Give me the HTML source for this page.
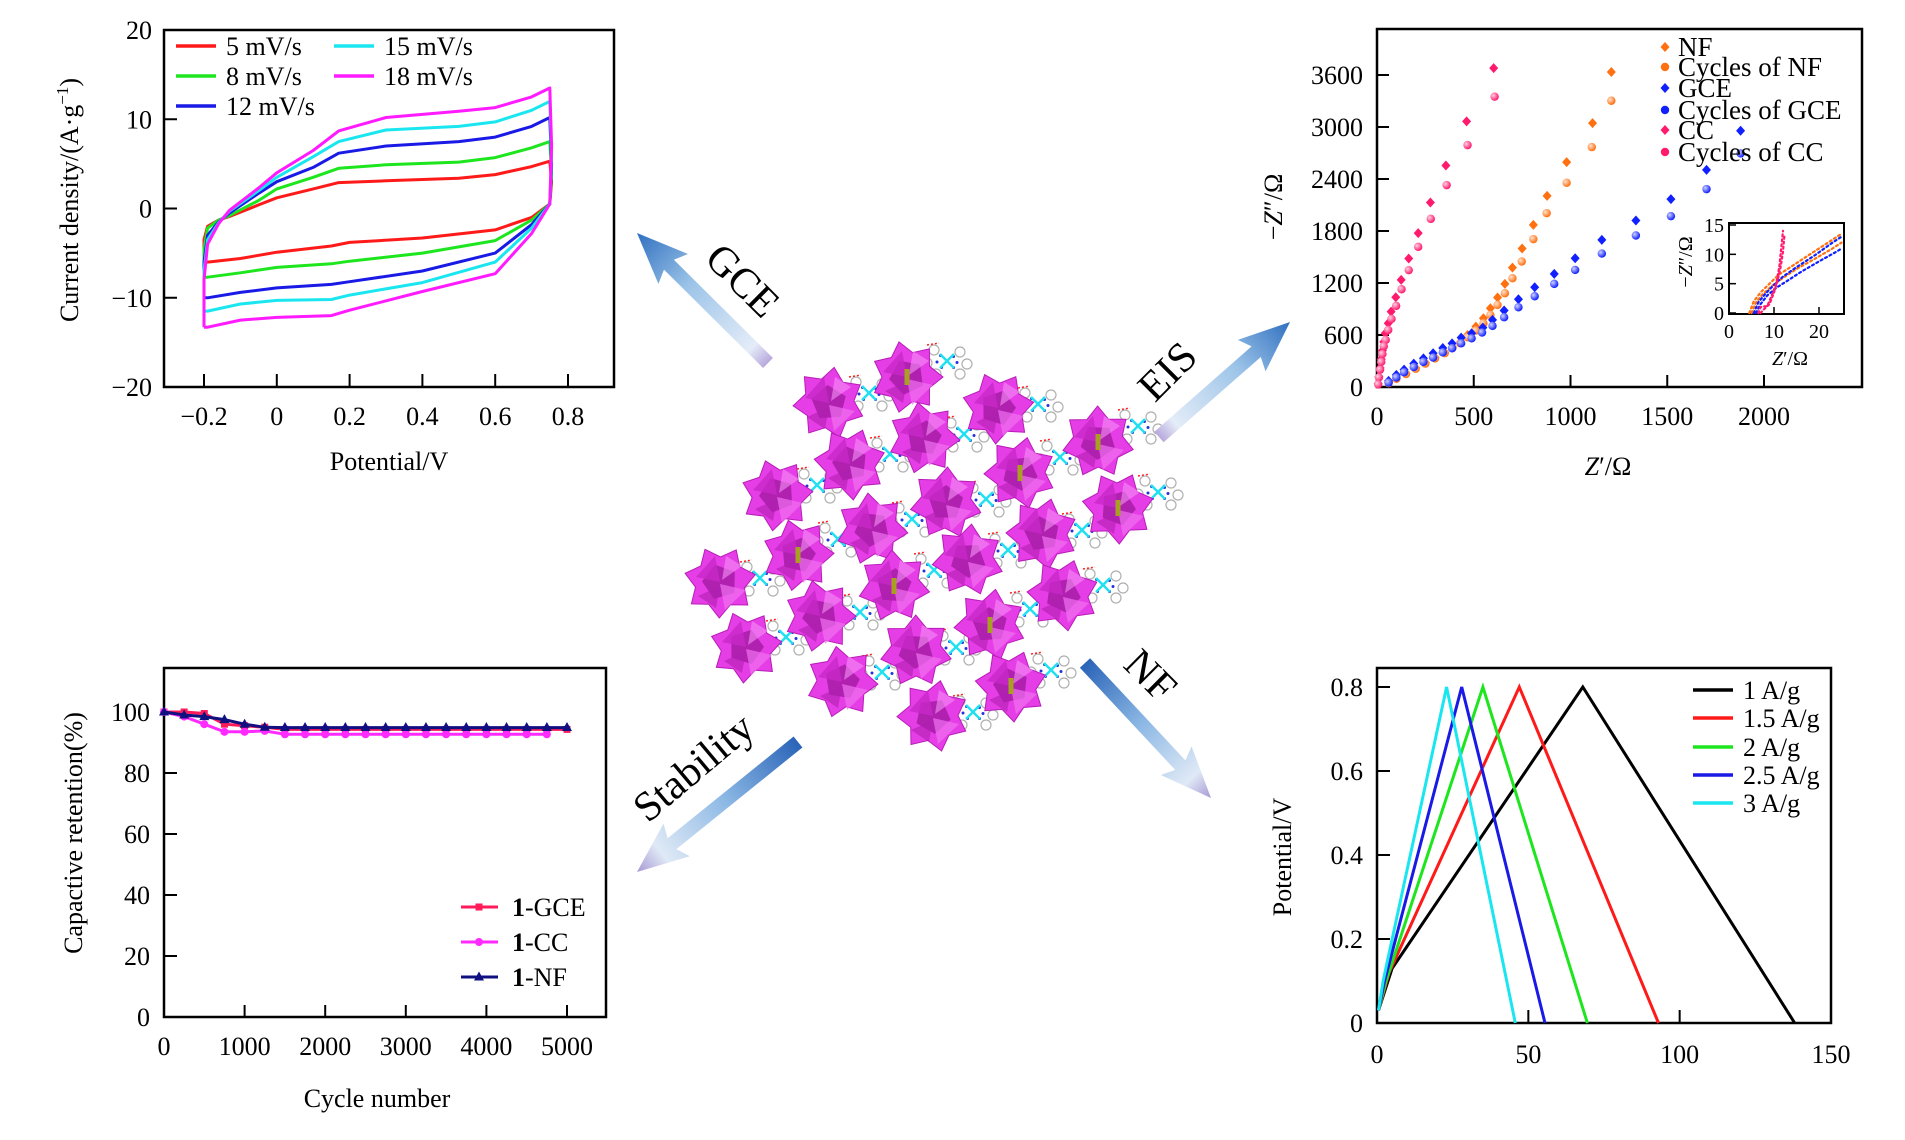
<!DOCTYPE html>
<html><head><meta charset="utf-8">
<style>
html,body{margin:0;padding:0;background:#fff;}
svg{display:block;font-family:"Liberation Serif",serif;}
</style></head>
<body>
<svg id="fig" width="1905" height="1140" viewBox="0 0 1905 1140" xmlns="http://www.w3.org/2000/svg">
<defs>
<radialGradient id="ballg" cx="35%" cy="35%" r="65%"><stop offset="0" stop-color="#fff" stop-opacity="0.8"/><stop offset="1" stop-color="#fff" stop-opacity="0"/></radialGradient>
</defs>
</svg>
<script>
// ---------- CV data ----------
const cvLabels=['5 mV/s','8 mV/s','12 mV/s','15 mV/s','18 mV/s'];
const cvColors=['#ff1a1a','#1ee61e','#1a1ae6','#1ae6f0','#ff1aff'];
const cvPotUp=[-0.2,-0.2,-0.19,-0.16,-0.13,-0.05,0,0.1,0.17,0.3,0.5,0.6,0.7,0.75];
const cvPotDown=[0.755,0.75,0.7,0.6,0.4,0.2,0.15,0,-0.1,-0.19,-0.2];
const cvUp5=[-6.0,-3.5,-2.0,-1.3,-0.9,0.4,1.2,2.2,2.9,3.1,3.4,3.8,4.7,5.3];
const cvDown5=[3.0,0.5,-1.0,-2.4,-3.3,-3.8,-4.2,-4.9,-5.6,-6.0,-6.0];
const cvUp8=[-7.7,-4.5,-2.2,-1.3,-0.8,0.9,2.2,3.5,4.5,4.9,5.2,5.7,6.8,7.5];
const cvDown8=[4.0,0.5,-1.3,-3.6,-5.0,-5.9,-6.2,-6.6,-7.2,-7.7,-7.7];
const cvUp12=[-10.0,-6,-3,-1.5,-0.5,1.7,3.0,4.6,6.2,7.0,7.5,8.0,9.2,10.2];
const cvDown12=[5,0.5,-1.8,-5.0,-7.0,-8.2,-8.5,-8.9,-9.4,-10.0,-10.0];
const cvUp15=[-11.5,-7,-3.5,-1.6,-0.3,2.0,3.5,5.8,7.5,8.8,9.2,9.7,11.0,12.0];
const cvDown15=[6,0.5,-2.2,-6.0,-8.3,-9.7,-10.2,-10.3,-10.7,-11.5,-11.5];
const cvUp18=[-13.3,-8,-4,-1.7,-0.2,2.3,4.0,6.5,8.7,10.2,10.9,11.3,12.5,13.5];
const cvDown18=[7,0.5,-2.8,-7.3,-9.3,-11.4,-12.0,-12.2,-12.5,-13.3,-13.3];
const cvXTicks=[-0.2,0,0.2,0.4,0.6,0.8];
const cvXTickLabels=['\u22120.2','0','0.2','0.4','0.6','0.8'];
const cvYTicks=[20,10,0,-10,-20];
const cvYTickLabels=['20','10','0','\u221210','\u221220'];

// ---------- EIS data ----------
const eisLabels=['NF','Cycles of NF','GCE','Cycles of GCE','CC','Cycles of CC'];
const eisNFx=[1211,1114,980,879,808,750,700,661,623,586,550,511,468,430,390,350,300,250,200,150,100,60];
const eisNFy=[3634,3045,2595,2206,1871,1598,1378,1190,1032,909,793,697,600,520,460,400,340,280,220,160,100,50];
const eisNFcx=[1211,1110,980,877,808,748,700,661,623,586,550,511,468,430,390,350,300,250,200,150,100,60];
const eisNFcy=[3303,2768,2356,2006,1706,1448,1255,1082,947,832,735,651,574,505,450,390,330,270,210,150,95,45];
const eisGCEx=[1879,1703,1519,1338,1162,1024,916,815,731,657,597,547,489,435,388,340,290,240,190,140,100,60];
const eisGCEy=[2957,2506,2168,1921,1698,1486,1305,1151,1013,882,774,685,620,570,504,450,390,330,270,200,140,70];
const eisGCEcx=[1879,1703,1519,1338,1162,1024,916,815,731,657,597,543,489,435,388,340,290,240,190,140,100,60];
const eisGCEcy=[2695,2283,1971,1748,1540,1351,1190,1047,920,805,705,628,562,504,447,400,340,290,230,170,110,50];
const eisCCx=[603,463,356,276,213,164,125,97,73,58,43,35,28,22,16,10,6];
const eisCCy=[3680,3065,2556,2129,1775,1482,1236,1036,870,735,620,520,420,320,220,120,40];
const eisCCcx=[608,468,360,278,213,164,127,99,75,58,45,35,28,22,16,10,6];
const eisCCcy=[3350,2791,2329,1940,1617,1348,1128,936,785,658,543,470,380,290,200,110,30];
const eisXTicks=[0,500,1000,1500,2000];
const eisYTicks=[0,600,1200,1800,2400,3000,3600];
// inset
const insNFx=[4.5,5.5,7,9,11,14,18,22,25]; const insNFy=[0,2,3.5,5,6.5,8,10,12,13.5];
const insNFcx=[5,6,7.5,9.5,12,15,19,23,25]; const insNFcy=[0,1.8,3.2,4.6,6,7.5,9.2,11,12];
const insGCEx=[5.5,6.5,8,10,12,15,19,23,25]; const insGCEy=[0,1.8,3.2,4.8,6.2,7.8,9.8,12,13];
const insGCEcx=[6,7,8.5,10.5,13,16,20,24,25]; const insGCEcy=[0,1.5,3,4.3,5.5,7,8.8,10.5,11];
const insCCx=[6.5,7,8.5,9.5,10.5,11.2,11.6,12]; const insCCy=[0,1,1.2,3,5,8,11,14];
const insCCcx=[7,8,9,10,10.8,11.5,12,12.3]; const insCCcy=[0,0.8,1.5,3.5,5.5,8,10.5,13];
const insXTicks=[0,10,20]; const insYTicks=[0,5,10,15];

// ---------- Stability data ----------
const stabLabels=['-GCE','-CC','-NF'];
const stabCycles=[0,250,500,750,1000,1250,1500,1750,2000,2250,2500,2750,3000,3250,3500,3750,4000,4250,4500,4750,5000];
const stabGCE=[100,100,99.5,96,95.5,95,94.3,94.3,94.3,94.3,94.3,94.3,94.3,94.3,94.3,94.3,94.3,94.3,94.3,94.3,94.3];
const stabCC=[100,98.5,96,93.5,93.5,93.8,92.7,92.7,92.7,92.7,92.7,92.7,92.7,92.7,92.7,92.7,92.7,92.7,92.7,92.7];
const stabNF=[100,99,98.5,97.5,96,95,94.9,94.9,94.9,94.9,94.9,94.9,94.9,94.9,94.9,94.9,94.9,94.9,94.9,94.9,94.9];
const stabXTicks=[0,1000,2000,3000,4000,5000];
const stabYTicks=[0,20,40,60,80,100];

// ---------- GCD data ----------
const gcdLabels=['1 A/g','1.5 A/g','2 A/g','2.5 A/g','3 A/g'];
const gcdColors=['#000000','#ff1a1a','#1ee61e','#1a1ae6','#1ae6f0'];
const gcdStartT=[0.5,0.5,0.5,0.5,0.5];
const gcdStartV=[0.03,0.03,0.03,0.03,0.03];
const gcdKneeT=[5,4,3,2.5,2];
const gcdKneeV=[0.13,0.12,0.1,0.1,0.1];
const gcdPeakT=[68,47,35,28,23];
const gcdPeakV=[0.8,0.8,0.8,0.8,0.8];
const gcdEndT=[138,93,69.5,55.5,45.7];
const gcdXTicks=[0,50,100,150];
const gcdYTicks=[0,0.2,0.4,0.6,0.8];
const gcdYTickLabels=['0','0.2','0.4','0.6','0.8'];

const NS='http://www.w3.org/2000/svg';
const svg=document.getElementById('fig');
function mk(tag,attrs,parent){const e=document.createElementNS(NS,tag);for(const k in attrs)e.setAttribute(k,attrs[k]);(parent||svg).appendChild(e);return e;}
function lin(d0,d1,r0,r1){return v=>r0+(v-d0)*(r1-r0)/(d1-d0);}
function txt(x,y,s,size,anchor,parent){const t=mk('text',{x:x,y:y,'font-size':size,'text-anchor':anchor||'middle',fill:'#000'},parent);t.textContent=s;return t;}
function pts(xs,ys,sx,sy){return xs.map((v,i)=>sx(v).toFixed(1)+','+sy(ys[i]).toFixed(1)).join(' ');}

// ================= CV chart =================
(function(){
const g=mk('g',{});


const sx=lin(-0.2,0.8,204,568), sy=lin(-20,20,387,30);
const box=mk('rect',{x:164,y:30,width:450,height:357,fill:'none',stroke:'#000','stroke-width':2.5},g);


cvXTicks.forEach((v,i)=>{
  const t=mk('line',{x1:sx(v),x2:sx(v),y1:387,y2:374,stroke:'#000','stroke-width':2},g);
  
  
  const l=txt(sx(v),425,cvXTickLabels[i],26,'middle',g);
  
  
});
cvYTicks.forEach((v,i)=>{
  const t=mk('line',{x1:164,x2:177,y1:sy(v),y2:sy(v),stroke:'#000','stroke-width':2},g);
  
  
  const l=txt(152,sy(v)+9,cvYTickLabels[i],26,'end',g);
  
  
});
const ups=[cvUp5,cvUp8,cvUp12,cvUp15,cvUp18], downs=[cvDown5,cvDown8,cvDown12,cvDown15,cvDown18];
ups.forEach((u,i)=>{
  const xs=cvPotUp.concat(cvPotDown), ys=u.concat(downs[i]);
  const p=mk('polyline',{points:pts(xs,ys,sx,sy),fill:'none',stroke:cvColors[i],'stroke-width':3,'stroke-linejoin':'round'},g);
  
  
});
const legPos=[[176,46],[176,76],[176,106],[334,46],[334,76]];
cvLabels.forEach((s,i)=>{
  const [lx,ly]=legPos[i];
  const gl=mk('g',{},g);
  
  
  mk('line',{x1:lx,x2:lx+40,y1:ly,y2:ly,stroke:cvColors[i],'stroke-width':3.5},gl);
  txt(lx+50,ly+9,s,26,'start',gl);
});
const xt=txt(389,470,'Potential/V',26,'middle',g);


const yt=mk('text',{x:0,y:0,'font-size':26,'text-anchor':'middle',transform:'translate(78,200) rotate(-90)'},g);
yt.innerHTML='Current density/(A\u00b7g<tspan dy="-10" font-size="17">\u22121</tspan><tspan dy="10">)</tspan>';


})();

// ================= EIS chart =================
(function(){
const g=mk('g',{});


const sx=lin(0,2000,1377,1764), sy=lin(0,3600,387,75);
const box=mk('rect',{x:1377,y:29,width:485,height:358,fill:'none',stroke:'#000','stroke-width':2.5},g);


eisXTicks.forEach(v=>{
  if(v>0){const t=mk('line',{x1:sx(v),x2:sx(v),y1:387,y2:375,stroke:'#000','stroke-width':2},g);
  
  }
  const l=txt(sx(v),425,String(v),26,'middle',g);
  
  
});
eisYTicks.forEach(v=>{
  const t=mk('line',{x1:1377,x2:1389,y1:sy(v),y2:sy(v),stroke:'#000','stroke-width':2},g);
  
  
  const l=txt(1363,sy(v)+9,String(v),26,'end',g);
  
  
});
function diamonds(xs,ys,col,name){
  const gg=mk('g',{},g);
  
  
  xs.forEach((v,i)=>{const x=sx(v),y=sy(ys[i]);
    mk('polygon',{points:`${x},${y-5} ${x+4.5},${y} ${x},${y+5} ${x-4.5},${y}`,fill:col},gg);});
}
function circles(xs,ys,col,name){
  const gg=mk('g',{},g);
  
  
  xs.forEach((v,i)=>{const x=sx(v),y=sy(ys[i]);
    mk('circle',{cx:x,cy:y,r:4.2,fill:col},gg);
    mk('circle',{cx:x,cy:y,r:4.2,fill:'url(#ballg)'},gg);});
}
const cNF='#ff7010',cG='#1020ff',cC='#ff1a6e';
diamonds(eisNFx,eisNFy,cNF,'eis-series-nf');
circles(eisNFcx,eisNFcy,cNF,'eis-series-cycles-nf');
diamonds(eisGCEx,eisGCEy,cG,'eis-series-gce');
circles(eisGCEcx,eisGCEcy,cG,'eis-series-cycles-gce');
diamonds(eisCCx,eisCCy,cC,'eis-series-cc');
circles(eisCCcx,eisCCcy,cC,'eis-series-cycles-cc');
const legCols=[cNF,cNF,cG,cG,cC,cC], legY=[47,67,88,110,130,152];
eisLabels.forEach((s,i)=>{
  const gl=mk('g',{},g);
  
  
  const x=1665,y=legY[i];
  if(i%2===0) mk('polygon',{points:`${x},${y-5} ${x+4.5},${y} ${x},${y+5} ${x-4.5},${y}`,fill:legCols[i]},gl);
  else mk('circle',{cx:x,cy:y,r:4.2,fill:legCols[i]},gl);
  txt(1678,y+9,s,27,'start',gl);
});
const xt=mk('text',{x:1608,y:475,'font-size':26,'text-anchor':'middle'},g);
xt.innerHTML='<tspan font-style="italic">Z</tspan>\u2032/\u03a9';


const yt=mk('text',{x:0,y:0,'font-size':26,'text-anchor':'middle',transform:'translate(1282,207) rotate(-90)'},g);
yt.innerHTML='\u2212<tspan font-style="italic">Z</tspan>\u2033/\u03a9';


// inset
const ig=mk('g',{},g);


const ix=lin(0,20,1729,1819), iy=lin(0,15,313,225);
mk('rect',{x:1729,y:223,width:115,height:91,fill:'#fff',stroke:'#000','stroke-width':2},ig);
insXTicks.forEach(v=>{
  if(v>0) mk('line',{x1:ix(v),x2:ix(v),y1:314,y2:307,stroke:'#000','stroke-width':1.5},ig);
  const l=txt(ix(v),338,String(v),20,'middle',ig);
  
  
});
insYTicks.forEach(v=>{
  mk('line',{x1:1729,x2:1736,y1:iy(v),y2:iy(v),stroke:'#000','stroke-width':1.5},ig);
  const l=txt(1724,iy(v)+7,String(v),20,'end',ig);
  
  
});
[[insNFx,insNFy,cNF],[insNFcx,insNFcy,cNF],[insGCEx,insGCEy,cG],[insGCEcx,insGCEcy,cG],[insCCx,insCCy,cC],[insCCcx,insCCcy,cC]].forEach((s,i)=>{
  const p=mk('polyline',{points:pts(s[0],s[1],ix,iy),fill:'none',stroke:s[2],'stroke-width':2.2,'stroke-dasharray':'2 3','stroke-linecap':'round'},ig);
  
  
});
const it=mk('text',{x:1790,y:365,'font-size':20,'text-anchor':'middle'},ig);
it.innerHTML='<tspan font-style="italic">Z</tspan>\u2032/\u03a9';


const iyt=mk('text',{x:0,y:0,'font-size':20,'text-anchor':'middle',transform:'translate(1692,262) rotate(-90)'},ig);
iyt.innerHTML='\u2212<tspan font-style="italic">Z</tspan>\u2033/\u03a9';


})();

// ================= Stability chart =================
(function(){
const g=mk('g',{});


const sx=lin(0,5000,164,567), sy=lin(0,100,1017,712);
const box=mk('rect',{x:164,y:668,width:442,height:349,fill:'none',stroke:'#000','stroke-width':2.5},g);


stabXTicks.forEach(v=>{
  if(v>0){const t=mk('line',{x1:sx(v),x2:sx(v),y1:1017,y2:1005,stroke:'#000','stroke-width':2},g);
  
  }
  const l=txt(sx(v),1055,String(v),26,'middle',g);
  
  
});
stabYTicks.forEach(v=>{
  const t=mk('line',{x1:164,x2:177,y1:sy(v),y2:sy(v),stroke:'#000','stroke-width':2},g);
  
  
  const l=txt(150,sy(v)+9,String(v),26,'end',g);
  
  
});
const cols=['#ff1a5a','#ff2aff','#101080'];
const series=[stabGCE,stabCC,stabNF];
function marker(gg,k,x,y,c){
  if(k===0) mk('rect',{x:x-3.5,y:y-3.5,width:7,height:7,fill:c},gg);
  else if(k===1) mk('circle',{cx:x,cy:y,r:4,fill:c},gg);
  else mk('polygon',{points:`${x},${y-5.5} ${x+5},${y+3.5} ${x-5},${y+3.5}`,fill:c},gg);
}
series.forEach((s,k)=>{
  const gg=mk('g',{},g);
  
  
  const xs=stabCycles.slice(0,s.length);
  mk('polyline',{points:pts(xs,s,sx,sy),fill:'none',stroke:cols[k],'stroke-width':3},gg);
  xs.forEach((v,i)=>marker(gg,k,sx(v),sy(s[i]),cols[k]));
});
const ly=[907,942,977];
stabLabels.forEach((s,k)=>{
  const gl=mk('g',{},g);
  
  
  mk('line',{x1:461,x2:498,y1:ly[k],y2:ly[k],stroke:cols[k],'stroke-width':3},gl);
  marker(gl,k,479,ly[k],cols[k]);
  const t=mk('text',{x:512,y:ly[k]+9,'font-size':26},gl);
  t.innerHTML='<tspan font-weight="bold">1</tspan>'+s;
});
const xt=txt(377,1107,'Cycle number',26,'middle',g);


const yt=mk('text',{x:0,y:0,'font-size':26,'text-anchor':'middle',transform:'translate(82,833) rotate(-90)'},g);
yt.textContent='Capactive retention(%)';


})();

// ================= GCD chart =================
(function(){
const g=mk('g',{});


const sx=lin(0,150,1377,1831), sy=lin(0,0.8,1023,687);
const box=mk('rect',{x:1377,y:668,width:454,height:355,fill:'none',stroke:'#000','stroke-width':2.5},g);


gcdXTicks.forEach(v=>{
  if(v>0&&v<150){const t=mk('line',{x1:sx(v),x2:sx(v),y1:1023,y2:1010,stroke:'#000','stroke-width':2},g);
  
  }
  const l=txt(sx(v),1063,String(v),26,'middle',g);
  
  
});
gcdYTicks.forEach((v,i)=>{
  if(v>0){const t=mk('line',{x1:1377,x2:1390,y1:sy(v),y2:sy(v),stroke:'#000','stroke-width':2},g);
  
  }
  const l=txt(1363,sy(v)+9,gcdYTickLabels[i],26,'end',g);
  
  
});
gcdLabels.forEach((s,i)=>{
  const xs=[gcdStartT[i],gcdKneeT[i],gcdPeakT[i],gcdEndT[i]];
  const ys=[gcdStartV[i],gcdKneeV[i],gcdPeakV[i],0];
  const p=mk('polyline',{points:pts(xs,ys,sx,sy),fill:'none',stroke:gcdColors[i],'stroke-width':3},g);
  
  
});
const ly=[690,718,747,775,803];
gcdLabels.forEach((s,i)=>{
  const gl=mk('g',{},g);
  
  
  mk('line',{x1:1693,x2:1733,y1:ly[i],y2:ly[i],stroke:gcdColors[i],'stroke-width':3.5},gl);
  txt(1743,ly[i]+9,s,26,'start',gl);
});
const yt=mk('text',{x:0,y:0,'font-size':26,'text-anchor':'middle',transform:'translate(1291,857) rotate(-90)'},g);
yt.textContent='Potential/V';


})();

// ================= Center structure =================
(function(){
const g=mk('g',{transform:'translate(0,-8)'});


const stars=[[907,385],[829,411],[998,416],[1098,450],[850,472],[924,446],[1020,481],[777,503],[946,511],[1118,516],[872,537],[1042,542],[798,563],[968,568],[720,590],[894,594],[1063,603],[820,624],[990,633],[746,655],[916,659],[1011,694],[842,690],[933,724]];
stars.forEach(([x,y],k)=>{
  const lx=x+40,ly=y-16+(k%3)*6;
  const lg=mk('g',{},g);
  
  
  [[-13,-11],[13,-9],[-11,13],[13,13],[-20,2],[20,3]].forEach(([dx,dy])=>{
    mk('circle',{cx:lx+dx,cy:ly+dy,r:5,fill:'none',stroke:'#b0b0b0','stroke-width':1.2},lg);
    mk('circle',{cx:lx+dx*0.5,cy:ly+dy*0.5,r:1.5,fill:'#2233dd'},lg);
  });
  mk('line',{x1:lx-7,y1:ly-7,x2:lx+7,y2:ly+7,stroke:'#22e0f0','stroke-width':2.5},lg);
  mk('line',{x1:lx-7,y1:ly+7,x2:lx+7,y2:ly-7,stroke:'#22e0f0','stroke-width':2.5},lg);
  mk('line',{x1:lx-20,y1:ly-16,x2:lx-8,y2:ly-18,stroke:'#ff2020','stroke-width':1.5,'stroke-dasharray':'2 2'},lg);
});
stars.forEach(([x,y],k)=>{
  const sg=mk('g',{},g);
  
  
  const n=7,ro=36,ri=25,rot=k*0.37;
  let p=[];
  for(let i=0;i<2*n;i++){const r=i%2?ri:ro;const a=rot+i*Math.PI/n;p.push((x+r*Math.cos(a)).toFixed(1)+','+(y+r*Math.sin(a)).toFixed(1));}
  mk('polygon',{points:p.join(' '),fill:'#e63ee6',stroke:'#b81cb8','stroke-width':1},sg);
  let q=[];
  for(let i=0;i<5;i++){const a=rot+0.5+i*2*Math.PI/5;q.push((x+18*Math.cos(a)).toFixed(1)+','+(y+18*Math.sin(a)).toFixed(1));}
  mk('polygon',{points:q.join(' '),fill:'#a21aa2',opacity:0.8},sg);
  mk('polygon',{points:`${x-24},${y-5} ${x-5},${y-26} ${x},${y} `,fill:'#c828c8',opacity:0.8},sg);
  mk('polygon',{points:`${x+26},${y+8} ${x+5},${y+28} ${x},${y+2}`,fill:'#f070f0',opacity:0.7},sg);
  mk('polygon',{points:`${x-22},${y+14} ${x-4},${y+26} ${x},${y+4}`,fill:'#b020b0',opacity:0.6},sg);
  mk('polygon',{points:`${x+22},${y-16} ${x+6},${y-26} ${x+2},${y-2}`,fill:'#f590f5',opacity:0.6},sg);
  if(k%3===0) mk('rect',{x:x-2.5,y:y-8,width:5,height:16,fill:'#a8a020'},sg);
});
})();

// ================= Arrows & labels =================
(function(){
const arrows=[
 {name:'gce-arrow',tail:[768,363],tip:[637,233],darkHead:true},
 {name:'eis-arrow',tail:[1159,437],tip:[1290,322],darkHead:true},
 {name:'nf-arrow',tail:[1085,663],tip:[1211,798],darkHead:false},
 {name:'stability-arrow',tail:[798,742],tip:[637,872],darkHead:false}
];
const defs=svg.querySelector('defs');
arrows.forEach((a,k)=>{
  const [x1,y1]=a.tail,[x2,y2]=a.tip;
  const L=Math.hypot(x2-x1,y2-y1), ang=Math.atan2(y2-y1,x2-x1)*180/Math.PI;
  const gr=mk('linearGradient',{id:'ag'+k,gradientUnits:'userSpaceOnUse',x1:0,y1:0,x2:L,y2:0},defs);
  const stops=a.darkHead?[['0','#b8a8dc'],['0.12','#e4ecf8'],['0.6','#9cc4e8'],['1','#3070c0']]:[['0','#2a64b8'],['0.45','#8cb8e4'],['0.85','#dfe9f6'],['1','#a898d4']];
  stops.forEach(s=>mk('stop',{offset:s[0],'stop-color':s[1]},gr));
  const g=mk('g',{transform:`translate(${x1},${y1}) rotate(${ang})`});
  
  
  const hl=45,sw=7,hw=21;
  mk('polygon',{points:`0,${-sw} ${L-hl},${-sw} ${L-hl-6},${-hw} ${L},0 ${L-hl-6},${hw} ${L-hl},${sw} 0,${sw}`,fill:`url(#ag${k})`},g);
});
const labels=[['GCE',742,281,45,'gce-label'],['EIS',1168,372,-45,'eis-label'],['NF',1150,676,45,'nf-label'],['Stability',694,768,-40,'stability-label']];
labels.forEach(l=>{
  const t=mk('text',{x:0,y:0,'font-size':42,'text-anchor':'middle','dominant-baseline':'central',transform:`translate(${l[1]},${l[2]}) rotate(${l[3]})`});
  t.textContent=l[0];
  
  
});
})();
</script>
</body></html>
